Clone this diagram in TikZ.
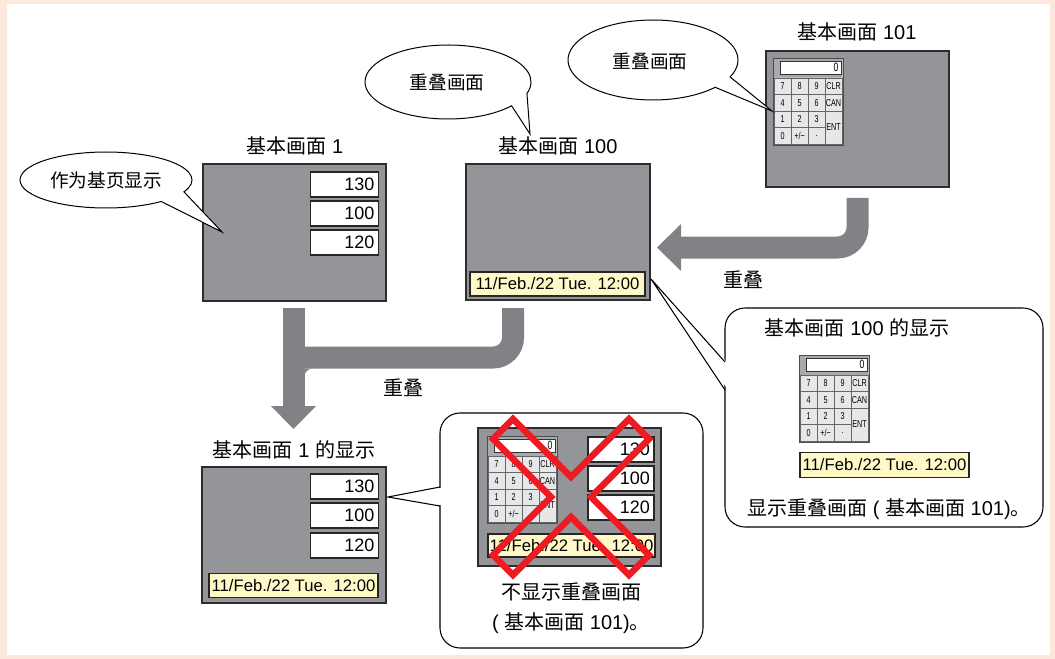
\documentclass[tikz,border=0pt]{standalone}
\usepackage{fontspec}
\setmainfont{Liberation Sans}
\newfontfamily\cjk{Noto Sans CJK SC}
\newfontfamily\narrowfont[FakeStretch=0.72]{Liberation Sans}
\definecolor{peach}{RGB}{253,232,222}
\definecolor{scrgray}{RGB}{147,149,152}
\definecolor{arrgray}{RGB}{128,130,133}
\definecolor{datey}{RGB}{255,249,200}
\definecolor{xred}{RGB}{237,28,36}
\definecolor{kpbg}{RGB}{188,190,192}
\definecolor{kpband}{RGB}{167,169,172}
\definecolor{keyfill}{RGB}{230,231,232}
\definecolor{edgec}{RGB}{45,45,45}
\newcommand\zh[1]{{\cjk #1}}
\tikzset{
 screen/.style={draw=edgec, fill=scrgray, line width=1.1pt, inner sep=0pt},
 field/.style={draw=black!85, fill=white, line width=1.3pt, text width=45pt, align=right, inner xsep=3pt, inner ysep=0pt, minimum height=18.5pt, font=\fontsize{13.5pt}{14pt}\selectfont},
 datebox/.style={draw=black!85, fill=datey, line width=1.1pt, minimum height=18pt, inner sep=0pt, font=\fontsize{12.5pt}{13pt}\selectfont},
 ttl/.style={inner sep=0pt, font=\fontsize{15pt}{18pt}\selectfont},
 ctext/.style={inner sep=0pt, font=\fontsize{14pt}{16pt}\selectfont},
 bigarrow/.style={draw=arrgray, line width=16.5pt},
 ovalcall/.style={draw=black, fill=white, line width=0.75pt},
 bubble/.style={draw=black, fill=white, line width=0.8pt},
 tailline/.style={draw=black, line width=0.8pt},
 kpframe/.style={draw=black!70, fill=kpbg, line width=0.7pt},
 kpdisp/.style={fill=kpband},
 kpdisplay/.style={draw=black!80, fill=white, line width=0.6pt, minimum width=45.75pt, minimum height=9.75pt, text width=42pt, align=right, inner xsep=1.5pt, inner ysep=0pt, font=\narrowfont\fontsize{9pt}{9pt}\selectfont},
 kkey/.style={draw=black!60, fill=keyfill, line width=0.45pt, minimum width=12.75pt, minimum height=12.4pt, inner sep=0pt, font=\narrowfont\fontsize{7.5pt}{8pt}\selectfont},
}
\newcommand\kpad[3]{%
\begin{scope}[shift={(#2,#3)}]
\draw[kpframe] (0,0) rectangle (70,87);
\fill[kpdisp] (0.6,0.6) rectangle (69.4,19.5);
\node[kpdisplay] (#1disp) at (37.5,9.5) {0};
\foreach \lab [count=\i from 0] in {7,8,9,CLR} \node[kkey] (#1ka\i) at ({9.5+17*\i},28.25) {\lab};
\foreach \lab [count=\i from 0] in {4,5,6,CAN} \node[kkey] (#1kb\i) at ({9.5+17*\i},44.75) {\lab};
\foreach \lab [count=\i from 0] in {1,2,3} \node[kkey] (#1kc\i) at ({9.5+17*\i},61.25) {\lab};
\foreach \lab [count=\i from 0] in {0,+/−,.} \node[kkey] (#1kd\i) at ({9.5+17*\i},77.75) {\lab};
\node[kkey, minimum height=24.75pt] (#1ent) at (60.5,69.5) {ENT};
\end{scope}}
\begin{document}
\begin{tikzpicture}[x=0.75pt,y=-0.75pt]
\useasboundingbox (0,0) rectangle (1055,659);
\fill[peach] (0,0) rectangle (1055,659);
\fill[white] (7,4) rectangle (1050,655);

% ---- screen 1
\node[screen, minimum width=137.25pt, minimum height=102.75pt] (s1) at (294.5,232.5) {};
\node[ttl] (s1t) at (295,146) {\zh{基本画面} 1};
\node[field] (s1a) at (344.5,184.5) {130};
\node[field] (s1b) at (344.5,213.5) {100};
\node[field] (s1c) at (344.5,242.5) {120};

% ---- screen 100
\node[screen, minimum width=138pt, minimum height=102pt] (s100) at (558,232) {};
\node[ttl] (s100t) at (558,146) {\zh{基本画面} 100};
\node[datebox, minimum width=131.25pt] (s100d) at (557.5,284) {11/Feb./22 Tue. 12:00};

% ---- screen 101
\node[screen, minimum width=137.25pt, minimum height=102pt] (s101) at (857.5,119) {};
\node[ttl] (s101t) at (857,32) {\zh{基本画面} 101};
\kpad{pa}{773}{58}

% ---- oval callouts
\draw[ovalcall] (106,180) ++(50:86 and 28) arc[start angle=50, end angle=385, x radius=86, y radius=28] -- (222,232) -- cycle;
\node[ctext] (c1) at (106,180) {\zh{作为基页显示}};
\draw[ovalcall] (448,82) ++(40:83 and 37) arc[start angle=40, end angle=378, x radius=83, y radius=37] -- (530,134) -- cycle;
\node[ctext] (c2) at (447,82) {\zh{重叠画面}};
\draw[ovalcall] (653,60) ++(43:85 and 40) arc[start angle=43, end angle=385, x radius=85, y radius=40] -- (772,111) -- cycle;
\node[ctext] (c3) at (650,61) {\zh{重叠画面}};

% ---- big arrows
\coordinate (a1s) at (857.5,198);
\coordinate (a1c) at (857.5,247.5);
\coordinate (a1e) at (680,247.5);
\draw[bigarrow, rounded corners=15pt] (a1s) -- (a1c) -- (a1e);
\fill[arrgray] (681,224) -- (657,247.5) -- (681,271) -- cycle;
\node[ttl] (l1) at (743,280) {\zh{重叠}};

\coordinate (b1s) at (293.5,308);
\coordinate (b1j) at (293.5,357.5);
\coordinate (b1e) at (293.5,407);
\coordinate (b2s) at (513,308);
\coordinate (b2c) at (513,357.5);
\draw[bigarrow] (b1s) -- (b1e);
\draw[bigarrow, rounded corners=15pt] (b1j) -- (b2c) -- (b2s);
\fill[arrgray] (304,368.5) -- (313,368.5) arc[start angle=270, end angle=180, radius=9] -- cycle;
\fill[arrgray] (271,406) -- (316,406) -- (293.5,429) -- cycle;
\node[ttl] (l2) at (403,388) {\zh{重叠}};

% ---- screen 1 display
\node[ttl] (s1dt) at (294,450) {\zh{基本画面} 1 \zh{的显示}};
\node[screen, minimum width=138pt, minimum height=102pt] (s1d) at (294,535) {};
\node[field] (s1da) at (344.5,486.5) {130};
\node[field] (s1db) at (344.5,515.5) {100};
\node[field] (s1dc) at (344.5,545.5) {120};
\node[datebox, minimum width=126.75pt] (s1dd) at (293.5,585.5) {11/Feb./22 Tue. 12:00};

% ---- right bubble
\draw[bubble, rounded corners=15pt] (725,308) rectangle (1043,527);
\fill[white] (727.5,363) -- (651,279) -- (727.5,389) -- cycle;
\draw[tailline] (725,362) -- (651,279) -- (725,390);
\node[ttl] (rbt) at (857,328) {\zh{基本画面} 100 \zh{的显示}};
\kpad{pb}{799}{355}
\node[datebox, minimum width=126.75pt, minimum height=19pt] (rbd) at (884.5,465) {11/Feb./22 Tue. 12:00};
\node[ttl] (rbx) at (889,509) {\zh{显示重叠画面} ( \zh{基本画面} 101)\zh{。}};

% ---- bottom bubble
\draw[bubble, rounded corners=15pt] (440,413) rectangle (703,648);
\fill[white] (442.5,487.5) -- (388,497) -- (442.5,505.5) -- cycle;
\draw[tailline] (440,487) -- (388,497) -- (440,506);
\node[screen, minimum width=137.25pt, minimum height=103.5pt] (sx) at (569.5,497) {};
\kpad{pc}{487}{436}
\node[field, text width=43.5pt] (sxa) at (621,449.5) {130};
\node[field, text width=43.5pt] (sxb) at (621,478.5) {100};
\node[field, text width=43.5pt] (sxc) at (621,507.5) {120};
\node[datebox, minimum width=125.25pt, minimum height=17.25pt] (sxd) at (571.5,545.5) {11/Feb./22 Tue. 12:00};
\draw[xred, line width=4.8pt, line join=miter] (493,439) -- (513,419) -- (571,477) -- (629,419) -- (649,439) -- (591,497) -- (649,555) -- (629,575) -- (571,517) -- (513,575) -- (493,555) -- (551,497) -- cycle;
\node[ttl] (bx1) at (571,592) {\zh{不显示重叠画面}};
\node[ttl] (bx2) at (571,623) {( \zh{基本画面} 101)\zh{。}};
\end{tikzpicture}
\end{document}
